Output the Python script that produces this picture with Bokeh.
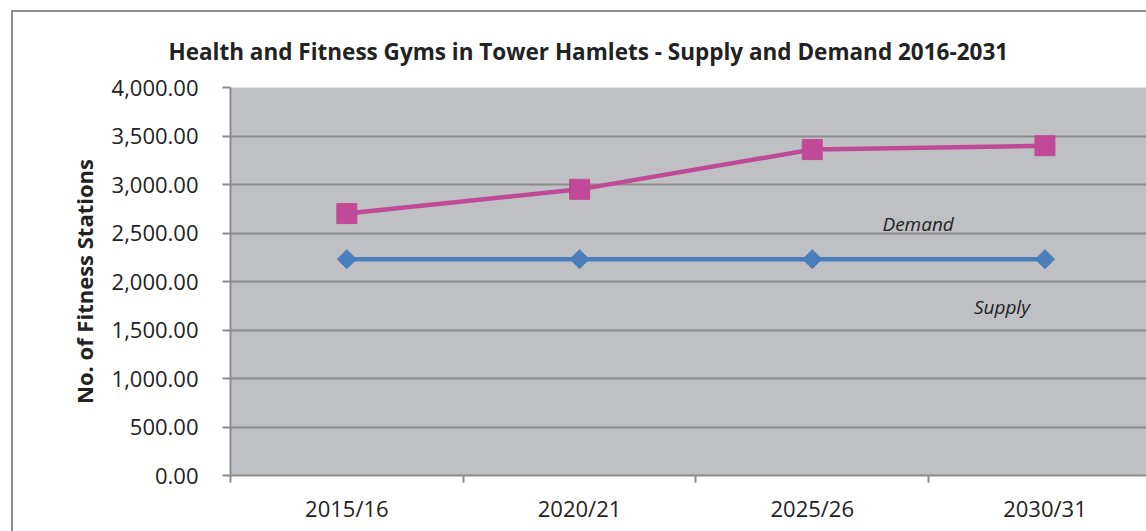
from bokeh.plotting import figure
from bokeh.models import Range1d, FixedTicker, NumeralTickFormatter, ColumnDataSource
from bokeh.embed import file_html
from bokeh.resources import INLINE
from bokeh.core.properties import value
import numpy as np

# ---- data ----
categories = ["2015/16", "2020/21", "2025/26", "2030/31"]
demand = [2700, 2950, 3360, 3400]
supply = [2230, 2230, 2230, 2230]
y_ticks = [0, 500, 1000, 1500, 2000, 2500, 3000, 3500, 4000]
series_labels = ["Demand", "Supply"]
label_x = [2.955, 3.315]
label_y = [2590, 1740]
title_text = "Health and Fitness Gyms in Tower Hamlets - Supply and Demand 2016-2031"

FONT = "Open Sans"
TXT = "#222222"
GRID = "#8c8c8c"

xs = [i + 0.5 for i in range(len(categories))]
bounds = list(range(len(categories) + 1))

p = figure(width=1135, height=521, output_backend="svg", toolbar_location=None,
           x_range=Range1d(0, 3.945), y_range=Range1d(0, 4000),
           min_border_left=217, min_border_right=0, min_border_top=75,
           min_border_bottom=58)
p.margin = (10, 0, 0, 11)
p.styles = {"border-left": "2px solid #8e8e8e", "border-top": "2px solid #8e8e8e"}

p.background_fill_color = "#bfc0c4"
p.border_fill_color = "white"
p.outline_line_color = None

# title
p.title.text = title_text
p.title.text_font = FONT
p.title.text_font_style = "bold"
p.title.text_font_size = "22.5px"
p.title.text_color = TXT
p.title.align = "left"
p.title.offset = -62
p.title.standoff = 41

# grid
p.xgrid.visible = False
p.ygrid.ticker = FixedTicker(ticks=y_ticks)
p.ygrid.grid_line_color = GRID
p.ygrid.grid_line_width = 2

# y axis
p.yaxis.ticker = FixedTicker(ticks=y_ticks)
p.yaxis.formatter = NumeralTickFormatter(format="0,0.00")
p.yaxis.axis_line_color = GRID
p.yaxis.axis_line_width = 2
p.yaxis.major_tick_line_color = GRID
p.yaxis.major_tick_line_width = 2
p.yaxis.major_tick_out = 8
p.yaxis.major_tick_in = 0
p.yaxis.minor_tick_line_color = None
p.yaxis.major_label_text_font = FONT
p.yaxis.major_label_text_font_size = "22px"
p.yaxis.major_label_text_color = TXT
p.yaxis.major_label_standoff = 24
p.yaxis.axis_label = "No. of Fitness Stations"
p.yaxis.axis_label_text_font = FONT
p.yaxis.axis_label_text_font_style = "bold"
p.yaxis.axis_label_text_font_size = "22px"
p.yaxis.axis_label_text_color = TXT
p.yaxis.axis_label_standoff = 10

# x axis
p.xaxis.ticker = FixedTicker(ticks=xs, minor_ticks=bounds)
p.xaxis.major_label_overrides = {x: c for x, c in zip(xs, categories)}
p.xaxis.axis_line_color = GRID
p.xaxis.axis_line_width = 2
p.xaxis.major_tick_line_color = None
p.xaxis.minor_tick_line_color = GRID
p.xaxis.minor_tick_line_width = 2
p.xaxis.minor_tick_out = 7
p.xaxis.minor_tick_in = 0
p.xaxis.major_label_text_font = FONT
p.xaxis.major_label_text_font_size = "22px"
p.xaxis.major_label_text_color = TXT
p.xaxis.major_label_standoff = 10

src = ColumnDataSource(dict(x=xs, demand=demand, supply=supply))

p.line("x", "supply", source=src, line_color="#4a7ebb", line_width=4.5)
p.scatter("x", "supply", source=src, marker="square", angle=np.pi / 4, size=13.5,
          fill_color="#4a7ebb", line_color="#4a7ebb")

p.line("x", "demand", source=src, line_color="#c04a98", line_width=4.5)
p.scatter("x", "demand", source=src, marker="square", size=20,
          fill_color="#c04a98", line_color="#c04a98")

lab = ColumnDataSource(dict(x=label_x, y=label_y, t=series_labels))
p.text("x", "y", text="t", source=lab, text_font=value(FONT), text_font_style="italic",
       text_font_size="19px", text_color=TXT, text_align="center", text_baseline="middle")

open("out.html", "w").write(file_html(p, INLINE))
